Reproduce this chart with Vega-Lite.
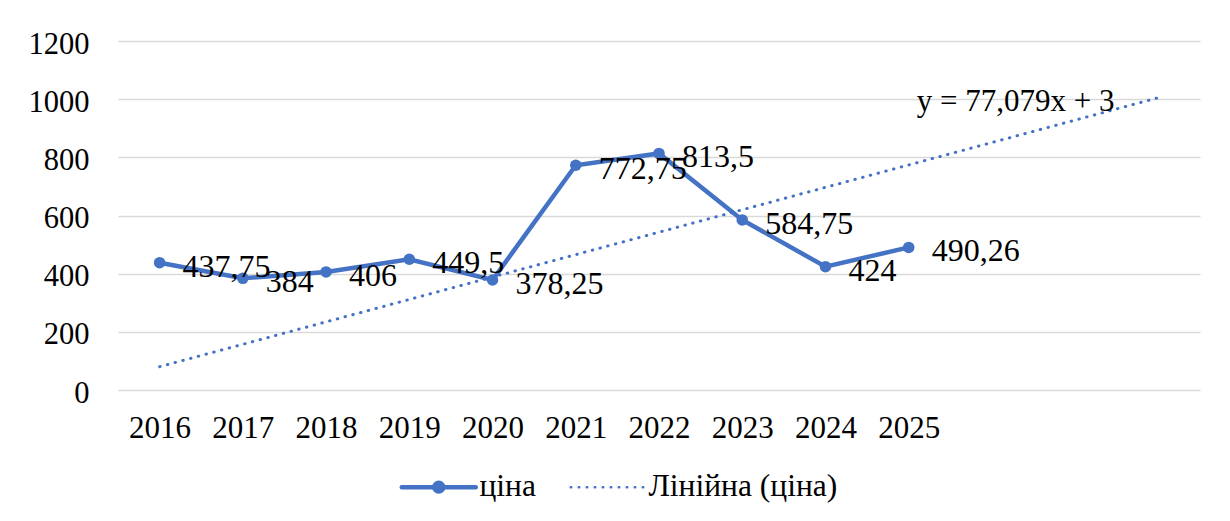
{
  "$schema": "https://vega.github.io/schema/vega-lite/v6.json",
  "width": 1082,
  "height": 349,
  "autosize": {"type": "none"},
  "padding": {"left": 118, "top": 41, "right": 30, "bottom": 131},
  "background": "white",
  "config": {
    "locale": {"number": {"decimal": ",", "thousands": "", "grouping": [3], "currency": ["", ""]}},
    "view": {"stroke": null},
    "font": "Liberation Serif"
  },
  "datasets": {
    "price": [
      {"x": 1, "year": 2016, "value": 437.75},
      {"x": 2, "year": 2017, "value": 384},
      {"x": 3, "year": 2018, "value": 406},
      {"x": 4, "year": 2019, "value": 449.5},
      {"x": 5, "year": 2020, "value": 378.25},
      {"x": 6, "year": 2021, "value": 772.75},
      {"x": 7, "year": 2022, "value": 813.5},
      {"x": 8, "year": 2023, "value": 584.75},
      {"x": 9, "year": 2024, "value": 424},
      {"x": 10, "year": 2025, "value": 490.26}
    ],
    "trend": [
      {"x": 1, "value": 80.08},
      {"x": 13, "value": 1005.03}
    ]
  },
  "layer": [
    {
      "data": {"name": "trend"},
      "mark": {"type": "line", "strokeWidth": 3, "strokeDash": [0.5, 7.5], "strokeCap": "round"},
      "encoding": {
        "x": {"field": "x", "type": "quantitative", "scale": {"domain": [0.5, 13.5], "nice": false, "zero": false},
          "axis": {"values": [1, 2, 3, 4, 5, 6, 7, 8, 9, 10], "labelExpr": "'' + (datum.value + 2015)", "title": null, "grid": false, "ticks": false, "domain": false, "labelFont": "Liberation Serif", "labelFontSize": 31, "labelColor": "#000000", "labelPadding": 38, "labelBaseline": "middle"}},
        "y": {"field": "value", "type": "quantitative", "scale": {"domain": [0, 1200], "nice": false},
          "axis": {"values": [0, 200, 400, 600, 800, 1000, 1200], "format": "d", "title": null, "ticks": false, "domain": false, "gridColor": "#d9d9d9", "gridWidth": 1.5, "labelFont": "Liberation Serif", "labelFontSize": 30.5, "labelColor": "#000000", "labelPadding": 29, "labelBaseline": "middle", "labelOffset": 3}},
        "color": {"datum": "Лінійна (ціна)", "type": "nominal",
          "scale": {"domain": ["ціна", "Лінійна (ціна)"], "range": ["#4472C4", "#4472C4"]},
          "legend": {
            "title": null, "orient": "none", "direction": "horizontal", "legendX": 305, "legendY": 430,
            "padding": 0, "columnPadding": 29, "labelOffset": 25, "labelLimit": 500,
            "labelFont": "Liberation Serif", "labelFontSize": 31.5, "labelColor": "#000000",
            "symbolType": "stroke", "symbolSize": 5476,
            "encode": {"symbols": {"update": {
              "shape": {"signal": "datum.value === 'ціна' ? 'M-1,0H1M0.12,0A0.12,0.12,0,1,1,-0.12,0A0.12,0.12,0,1,1,0.12,0Z' : 'stroke'"},
              "strokeWidth": {"signal": "datum.value === 'ціна' ? 4.5 : 2.5"},
              "strokeDash": {"signal": "datum.value === 'ціна' ? [] : [0.5, 7.5]"},
              "fill": {"value": "#4472C4"},
              "stroke": {"value": "#4472C4"},
              "strokeCap": {"value": "round"},
              "opacity": {"value": 1}
            }}}
          }}
      }
    },
    {
      "data": {"name": "trend"},
      "transform": [{"filter": "datum.x === 13"}],
      "mark": {"type": "text", "align": "right", "baseline": "middle", "dx": -44, "dy": 4, "fontSize": 31, "font": "Liberation Serif", "color": "#000000"},
      "encoding": {
        "x": {"field": "x", "type": "quantitative"},
        "y": {"field": "value", "type": "quantitative"},
        "text": {"value": "y = 77,079x + 3"}
      }
    },
    {
      "data": {"name": "price"},
      "mark": {"type": "line", "strokeWidth": 4.5},
      "encoding": {
        "x": {"field": "x", "type": "quantitative"},
        "y": {"field": "value", "type": "quantitative"},
        "color": {"datum": "ціна", "type": "nominal"}
      }
    },
    {
      "data": {"name": "price"},
      "mark": {"type": "point", "filled": true, "size": 133, "opacity": 1, "color": "#4472C4"},
      "encoding": {
        "x": {"field": "x", "type": "quantitative"},
        "y": {"field": "value", "type": "quantitative"}
      }
    },
    {
      "data": {"name": "price"},
      "mark": {"type": "text", "align": "left", "baseline": "middle", "dx": 23, "dy": 4, "fontSize": 32, "font": "Liberation Serif", "color": "#000000"},
      "encoding": {
        "x": {"field": "x", "type": "quantitative"},
        "y": {"field": "value", "type": "quantitative"},
        "text": {"field": "value", "type": "quantitative", "format": ".6~r"}
      }
    }
  ]
}
